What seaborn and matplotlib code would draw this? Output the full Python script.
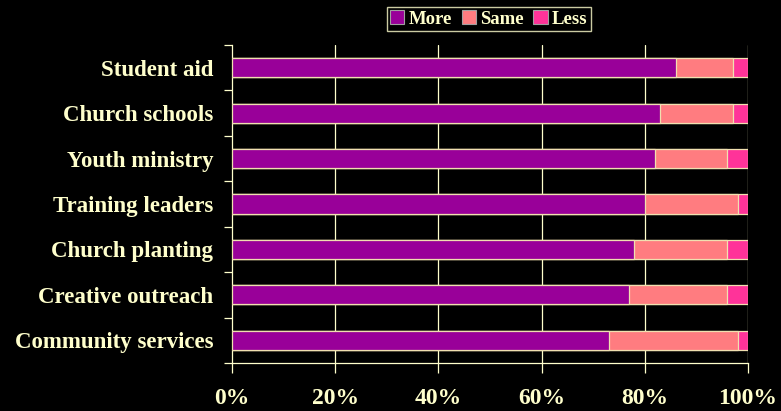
import matplotlib
matplotlib.use("Agg")
import matplotlib.pyplot as plt
from matplotlib.patches import Patch
from matplotlib.ticker import FixedLocator
import numpy as np
import pandas as pd
import seaborn as sns

categories = ["Student aid", "Church schools", "Youth ministry", "Training leaders",
              "Church planting", "Creative outreach", "Community services"]
more = [86, 83, 82, 80, 78, 77, 73]
same = [11, 14, 14, 18, 18, 19, 25]
less = [3, 3, 4, 2, 4, 4, 2]
x_ticks = [0, 20, 40, 60, 80, 100]
x_labels = ["0%", "20%", "40%", "60%", "80%", "100%"]

series_names = ["More", "Same", "Less"]
series_colors = ["#990099", "#FF7C80", "#FF3399"]
fg = "#FFFFCC"

sns.set_style("dark")
plt.rcParams["font.family"] = ["Liberation Serif", "DejaVu Serif"]
plt.rcParams["font.weight"] = "bold"

df = pd.DataFrame({"category": categories, "More": more, "Same": same, "Less": less})
df["c_more"] = df["More"]
df["c_same"] = df["More"] + df["Same"]
df["c_less"] = df["More"] + df["Same"] + df["Less"]

fig = plt.figure(figsize=(7.81, 4.11), dpi=100, facecolor="black")
ax = fig.add_axes([232 / 781, 1 - 363 / 411, (748 - 232) / 781, (363 - 45) / 411])
ax.set_facecolor("black")

# stacked bars: draw cumulative totals from the back to the front
for col, color in zip(["c_less", "c_same", "c_more"], series_colors[::-1]):
    sns.barplot(data=df, x=col, y="category", color=color, width=0.42,
                edgecolor="#F0E0B0", linewidth=0.9, saturation=1, ax=ax, zorder=3)

ax.set_xlim(0, 100)
ax.set_ylim(6.5, -0.5)
ax.set_xlabel("")
ax.set_ylabel("")

ax.set_xticks(x_ticks)
ax.set_xticklabels(x_labels, fontsize=17, fontweight="bold", color=fg)
ax.tick_params(axis="x", which="major", bottom=True, direction="out", length=7,
               width=0.9, color=fg, pad=11)

ax.set_yticks(range(len(categories)))
ax.set_yticklabels(categories, fontsize=16.5, fontweight="bold", color=fg)
ax.tick_params(axis="y", which="major", left=True, length=0, pad=13.5)
ax.yaxis.set_minor_locator(FixedLocator(np.arange(-0.5, len(categories), 1.0)))
ax.tick_params(axis="y", which="minor", left=True, direction="out", length=6,
               width=0.9, color=fg)

ax.grid(False)
for xv in x_ticks[1:]:
    ax.axvline(xv, color=fg, linewidth=0.9, zorder=1)

for side in ["top", "right"]:
    ax.spines[side].set_visible(False)
for side in ["left", "bottom"]:
    ax.spines[side].set_visible(True)
    ax.spines[side].set_color(fg)
    ax.spines[side].set_linewidth(0.9)

handles = [Patch(facecolor=c, edgecolor="#A0A0A0", linewidth=0.8) for c in series_colors]
leg = fig.legend(handles, series_names, loc="center", bbox_to_anchor=(489 / 781, 1 - 19 / 411),
                 ncol=3, frameon=True, fancybox=False, facecolor="black", edgecolor=fg,
                 prop={"family": "Liberation Serif", "weight": "bold", "size": 13.5},
                 handlelength=0.75, handleheight=0.75, handletextpad=0.25,
                 columnspacing=0.5, borderpad=0.15, borderaxespad=0)
leg.get_frame().set_linewidth(1.0)
for t in leg.get_texts():
    t.set_color(fg)

fig.savefig("out.png", dpi=100, facecolor="black")
